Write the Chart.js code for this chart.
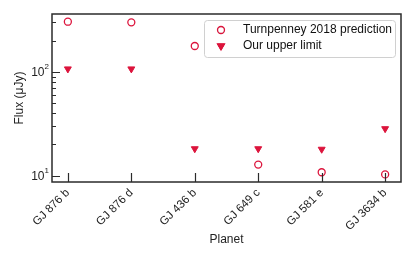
<!DOCTYPE html>
<html>
<head>
<meta charset="utf-8">
<script src="https://cdn.jsdelivr.net/npm/chart.js@4"></script>
<style>
  html, body { margin: 0; padding: 0; background: #fff; }
  #wrap { width: 415px; height: 260px; }
</style>
</head>
<body>
<div id="wrap"><canvas id="fluxChart" width="415" height="260"></canvas></div>
<script>
// planets on the x axis
const planets = ['GJ 876 b', 'GJ 876 d', 'GJ 436 b', 'GJ 649 c', 'GJ 581 e', 'GJ 3634 b'];
// flux values in microJansky
const predicted = [305, 301, 178, 12.8, 10.8, 10.3];
const upperLimit = [107, 107, 18.2, 18.2, 18.0, 28.4];
// labelled y ticks (base and exponent)
const yMajor = [10, 100];
const yExponents = ['1', '2'];
const yMinor = [20, 30, 40, 50, 60, 70, 80, 90, 200, 300];

const red = '#dc143c';
const frameColor = '#2b2b2b';
const font = 'Liberation Sans, Arial, sans-serif';

// frame, inward ticks, y labels, axis titles and the legend box
const framePlugin = {
    id: 'frame',
    afterDraw(chart) {
        const ctx = chart.ctx;
        const a = chart.chartArea;
        const xs = chart.scales.x;
        const ys = chart.scales.y;
        ctx.save();
        ctx.strokeStyle = frameColor;
        ctx.lineWidth = 1.5;
        ctx.strokeRect(a.left, a.top, a.right - a.left, a.bottom - a.top);

        ctx.lineWidth = 1.2;
        ctx.beginPath();
        planets.forEach((p, i) => {
            const x = Math.round(xs.getPixelForValue(i)) + 0.5;
            ctx.moveTo(x, a.bottom);
            ctx.lineTo(x, a.bottom - 9);
        });
        yMajor.forEach(v => {
            const y = Math.round(ys.getPixelForValue(v)) + 0.5;
            ctx.moveTo(a.left, y);
            ctx.lineTo(a.left + 8, y);
        });
        yMinor.forEach(v => {
            const y = Math.round(ys.getPixelForValue(v)) + 0.5;
            ctx.moveTo(a.left, y);
            ctx.lineTo(a.left + 4, y);
        });
        ctx.stroke();

        // y tick labels as 10 with a raised exponent
        ctx.fillStyle = '#222';
        ctx.textBaseline = 'middle';
        yMajor.forEach((v, i) => {
            const y = ys.getPixelForValue(v);
            ctx.font = '8px ' + font;
            ctx.textAlign = 'right';
            ctx.fillText(yExponents[i], a.left - 3, y - 5);
            ctx.font = '12px ' + font;
            ctx.fillText('10', a.left - 7.5, y + 1);
        });

        // axis titles
        ctx.font = '12px ' + font;
        ctx.textAlign = 'center';
        ctx.fillText('Planet', (a.left + a.right) / 2, 240);
        ctx.save();
        ctx.translate(20, (a.top + a.bottom) / 2);
        ctx.rotate(-Math.PI / 2);
        ctx.fillText('Flux (\u03bcJy)', 0, 0);
        ctx.restore();

        // legend
        const lx = 204, ly = 20, lw = 191, lh = 37;
        ctx.fillStyle = 'rgba(255,255,255,0.85)';
        ctx.strokeStyle = '#d0d0d0';
        ctx.lineWidth = 1;
        ctx.beginPath();
        ctx.roundRect(lx + 0.5, ly + 0.5, lw, lh, 3);
        ctx.fill();
        ctx.stroke();
        const ds = chart.data.datasets;
        [30, 46].forEach((y, i) => {
            Chart.helpers.drawPoint(ctx, {
                pointStyle: ds[i].pointStyle,
                radius: ds[i].pointRadius,
                rotation: ds[i].rotation || 0,
                borderWidth: ds[i].borderWidth
            }, 221, y);
            ctx.fillStyle = ds[i].backgroundColor;
            ctx.strokeStyle = ds[i].borderColor;
            ctx.lineWidth = ds[i].borderWidth;
            ctx.fill();
            ctx.stroke();
            ctx.fillStyle = '#111';
            ctx.font = '12px ' + font;
            ctx.textAlign = 'left';
            ctx.fillText(ds[i].label, 243, y);
        });
        ctx.restore();
    }
};

new Chart(document.getElementById('fluxChart'), {
    type: 'scatter',
    data: {
        datasets: [
            {
                label: 'Turnpenney 2018 prediction',
                data: predicted.map((v, i) => ({ x: i, y: v })),
                pointStyle: 'circle',
                pointRadius: 3.5,
                borderWidth: 1.3,
                borderColor: red,
                backgroundColor: 'rgba(255,255,255,0)'
            },
            {
                label: 'Our upper limit',
                data: upperLimit.map((v, i) => ({ x: i, y: v })),
                pointStyle: 'triangle',
                rotation: 180,
                pointRadius: 4,
                borderWidth: 1,
                borderColor: red,
                backgroundColor: red
            }
        ]
    },
    options: {
        responsive: false,
        animation: false,
        layout: { padding: { top: 14, right: 14, left: 0, bottom: 0 } },
        plugins: { legend: { display: false }, tooltip: { enabled: false } },
        scales: {
            x: {
                type: 'linear',
                min: -0.25,
                max: 5.25,
                grid: { display: false, drawTicks: false, tickLength: 0 },
                border: { display: false },
                afterBuildTicks: s => { s.ticks = planets.map((p, i) => ({ value: i })); },
                afterFit: s => { s.height = 78; },
                ticks: {
                    minRotation: 45,
                    maxRotation: 45,
                    padding: 4,
                    color: '#222',
                    font: { family: font, size: 11.5 },
                    callback: v => planets[v]
                }
            },
            y: {
                type: 'logarithmic',
                min: 8.7,
                max: 362,
                grid: { display: false, drawTicks: false, tickLength: 0 },
                border: { display: false },
                afterFit: s => { s.width = 52; },
                ticks: { display: false }
            }
        }
    },
    plugins: [framePlugin]
});
</script>
</body>
</html>
